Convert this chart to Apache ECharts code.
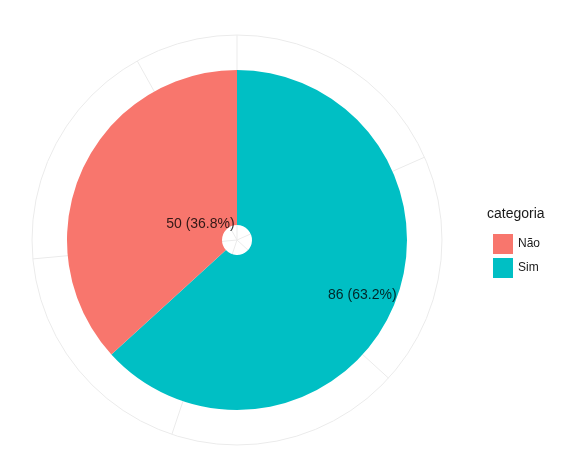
<!DOCTYPE html>
<html><head><meta charset="utf-8">
<script src="https://cdn.jsdelivr.net/npm/echarts@6/dist/echarts.min.js"></script>
<style>html,body{margin:0;background:#fff}#c{width:563px;height:467px}</style>
</head><body><div id="c"></div>
<script>
const categories = ['Não', 'Sim'];
const values = [50, 86];
const colors = ['#F8766D', '#00BFC4'];
const labelRadius = [40, 137];
const total = values.reduce((a, b) => a + b, 0);
const angleBreaks = 25;

const chart = echarts.init(document.getElementById('c'));
// label angle: Sim first clockwise from top, then Não
const mid = { 'Sim': values[1] / 2, 'Não': values[1] + values[0] / 2 };
chart.setOption({
  animation: false,
  polar: { center: [237, 240], radius: 205 },
  angleAxis: { type: 'value', min: 0, max: total, interval: angleBreaks, startAngle: 90, clockwise: true,
    axisLine: { show: true, lineStyle: { color: '#ebebeb', width: 1 } }, axisTick: { show: false }, axisLabel: { show: false },
    splitLine: { show: true, lineStyle: { color: '#ebebeb', width: 1 } } },
  radiusAxis: { type: 'value', min: 0, max: 205, show: false, splitLine: { show: false } },
  legend: { orient: 'vertical', left: 488, top: 229, itemWidth: 20, itemHeight: 20, itemGap: 4,
    icon: 'rect', data: categories, textStyle: { fontFamily: 'Liberation Sans', fontSize: 12, color: '#1a1a1a' } },
  graphic: [{ type: 'text', left: 487, top: 207, style: { text: 'categoria', fontFamily: 'Liberation Sans', fontSize: 14, fill: '#1a1a1a' } }],
  series: [
    { type: 'pie', center: [237, 240], radius: [15, 170], startAngle: 90, clockwise: true, label: { show: false },
      data: [{ name: 'Sim', value: values[1], itemStyle: { color: colors[1] } },
             { name: 'Não', value: values[0], itemStyle: { color: colors[0] } }], z: 3 },
    { type: 'scatter', coordinateSystem: 'polar', symbolSize: 0, z: 5,
      data: categories.map((c, i) => ({ value: [labelRadius[i], mid[c]],
        label: { show: true, position: 'inside', formatter: values[i] + ' (' + (values[i] / total * 100).toFixed(1) + '%)',
          fontFamily: 'Liberation Sans', fontSize: 14, color: '#000' } })) }
  ]
});
</script></body></html>
